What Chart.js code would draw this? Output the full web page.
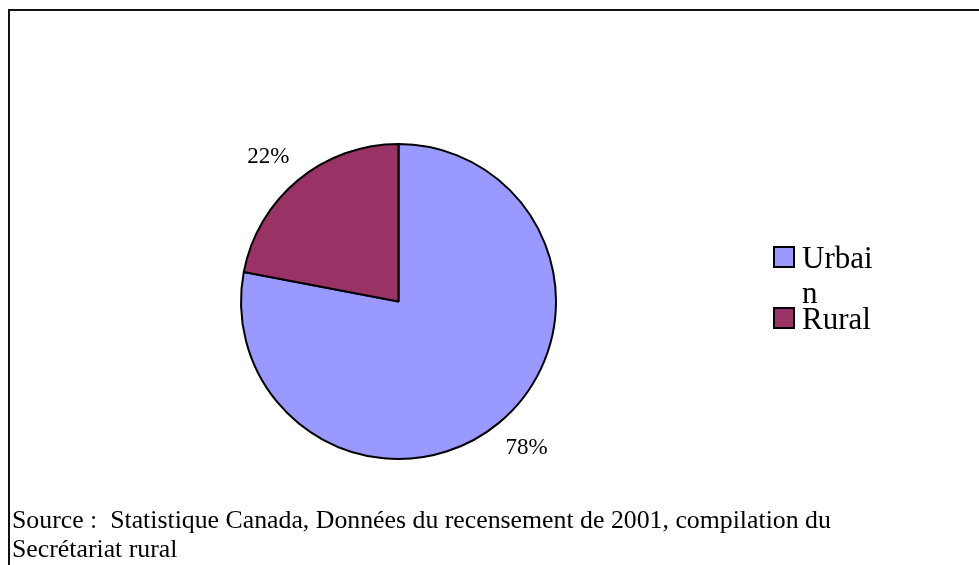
<!DOCTYPE html>
<html>
<head>
<meta charset="utf-8">
<script src="https://cdn.jsdelivr.net/npm/chart.js@4"></script>
<style>
  html, body { margin: 0; padding: 0; background: #fff; width: 979px; height: 565px; overflow: hidden; }
  #frame { position: absolute; left: 8px; top: 9px; width: 1000px; height: 600px; border-left: 2px solid #111; border-top: 2px solid #111; }
  #wrap { position: absolute; left: 0; top: 0; width: 979px; height: 565px; }
  #source { position: absolute; left: 12px; top: 505px; font-family: 'Liberation Serif', 'Times New Roman', serif; font-size: 25.8px; line-height: 29px; color: #000; white-space: pre; }
</style>
</head>
<body>
<div id="frame"></div>
<div id="wrap"><canvas id="pieChart" width="979" height="565"></canvas></div>
<div id="source">Source :  Statistique Canada, Données du recensement de 2001, compilation du
Secrétariat rural</div>
<script>
// ── data ────────────────────────────────────────────────
const categories = ['Urbain', 'Rural'];
const shares = [78, 22];
const legendLines = [['Urbai', 'n'], ['Rural']];   // legend text wraps like the original
const sliceColors = ['#9999ff', '#993366'];

const serif = "'Liberation Serif', 'Times New Roman', serif";

// percentage labels outside the slices
const outerLabels = {
  id: 'outerLabels',
  afterDatasetsDraw(chart) {
    const { ctx } = chart;
    const meta = chart.getDatasetMeta(0);
    const total = shares.reduce((a, b) => a + b, 0);
    ctx.save();
    ctx.font = '23px ' + serif;
    ctx.fillStyle = '#000';
    ctx.textAlign = 'center';
    ctx.textBaseline = 'middle';
    meta.data.forEach((arc, i) => {
      const mid = (arc.startAngle + arc.endAngle) / 2 - 0.035;
      const r = arc.outerRadius + 37;
      const x = arc.x + Math.cos(mid) * r;
      const y = arc.y + Math.sin(mid) * r;
      ctx.fillText(Math.round(shares[i] / total * 100) + '%', x - 1, y + 1);
    });
    ctx.restore();
  }
};

// legend on the right, drawn by hand so the label wraps
const sideLegend = {
  id: 'sideLegend',
  afterDraw(chart) {
    const { ctx } = chart;
    ctx.save();
    ctx.font = '31px ' + serif;
    ctx.textBaseline = 'alphabetic';
    const rows = [268, 329];
    legendLines.forEach((lines, i) => {
      const base = rows[i];
      ctx.fillStyle = sliceColors[i];
      ctx.fillRect(774, base - 21, 20, 20);
      ctx.strokeStyle = '#000';
      ctx.lineWidth = 2;
      ctx.strokeRect(774, base - 21, 20, 20);
      ctx.fillStyle = '#000';
      lines.forEach((t, j) => ctx.fillText(t, 802, base + j * 35));
    });
    ctx.restore();
  }
};

new Chart(document.getElementById('pieChart'), {
  type: 'pie',
  data: {
    labels: categories,
    datasets: [{ data: shares, backgroundColor: sliceColors, borderColor: '#000', borderWidth: 2 }]
  },
  options: {
    responsive: false,
    animation: false,
    layout: { padding: { left: 240, right: 422, top: 143, bottom: 105 } },
    plugins: { legend: { display: false }, tooltip: { enabled: false } }
  },
  plugins: [outerLabels, sideLegend]
});
</script>
</body>
</html>
